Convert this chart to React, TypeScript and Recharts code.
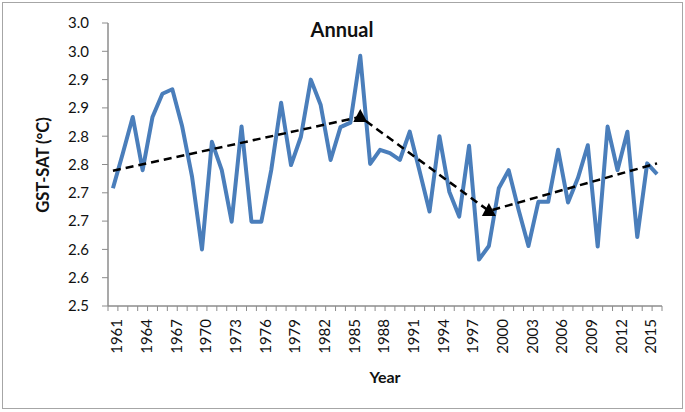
import { Label, Line, LineChart, XAxis, YAxis } from "recharts";

const years = [
  1961, 1962, 1963, 1964, 1965, 1966, 1967, 1968, 1969, 1970, 1971, 1972, 1973, 1974,
  1975, 1976, 1977, 1978, 1979, 1980, 1981, 1982, 1983, 1984, 1985, 1986, 1987, 1988,
  1989, 1990, 1991, 1992, 1993, 1994, 1995, 1996, 1997, 1998, 1999, 2000, 2001, 2002,
  2003, 2004, 2005, 2006, 2007, 2008, 2009, 2010, 2011, 2012, 2013, 2014, 2015, 2016,
];

const gstSat = [
  2.708, 2.77, 2.834, 2.74, 2.834, 2.875, 2.883, 2.817, 2.728, 2.6, 2.79, 2.74, 2.649, 2.817,
  2.649, 2.649, 2.74, 2.859, 2.749, 2.799, 2.9, 2.855, 2.758, 2.816, 2.824, 2.942, 2.751, 2.776,
  2.77, 2.758, 2.808, 2.738, 2.667, 2.8, 2.702, 2.658, 2.783, 2.582, 2.606, 2.708, 2.74, 2.67,
  2.606, 2.684, 2.684, 2.776, 2.683, 2.726, 2.784, 2.605, 2.817, 2.74, 2.808, 2.622, 2.752, 2.733,
];

// piecewise trend: breakpoints only
const trendYears = [1961, 1986, 1999, 2016];
const trendValues = [2.739, 2.834, 2.668, 2.752];
const breakYears = [1986, 1999];

const yTicks = [2.5, 2.55, 2.6, 2.65, 2.7, 2.75, 2.8, 2.85, 2.9, 2.95, 3.0];
const yTickLabels = ["2.5", "2.6", "2.6", "2.7", "2.7", "2.8", "2.8", "2.9", "2.9", "3.0", "3.0"];

const data = years.map((year, i) => {
  const t = trendYears.indexOf(year);
  return { year, value: gstSat[i], trend: t >= 0 ? trendValues[t] : null };
});

const W = 685;
const H = 412;
const LEFT = 108;
const RIGHT = 23;
const TOP = 23;
const BOTTOM = 106;
const STEP = (W - LEFT - RIGHT) / years.length;
const AXIS = "#8c8c8c";
const FONT = "Lato, 'Open Sans', sans-serif";

function XTick(props: any) {
  const { x, y, payload, index } = props;
  const half = STEP / 2;
  const tx = x + 4;
  return (
    <g>
      <line x1={x - half} x2={x - half} y1={y} y2={y + 5} stroke={AXIS} strokeWidth={1} />
      {index === years.length - 1 && (
        <line x1={x + half} x2={x + half} y1={y} y2={y + 5} stroke={AXIS} strokeWidth={1} />
      )}
      {index % 3 === 0 && (
        <text
          x={tx}
          y={y + 13}
          transform={`rotate(-90, ${tx}, ${y + 13})`}
          textAnchor="end"
          dy="0.35em"
          fontSize={15}
          fontFamily={FONT}
          fill="#111"
        >
          {payload.value}
        </text>
      )}
    </g>
  );
}

function TriangleDot(props: any) {
  const { cx, cy, payload, index } = props;
  if (!breakYears.includes(payload.year) || cx == null || cy == null) {
    return <g key={`d${index}`} />;
  }
  return (
    <polygon
      key={`d${index}`}
      points={`${cx},${cy - 8} ${cx - 7},${cy + 5} ${cx + 7},${cy + 5}`}
      fill="#000"
    />
  );
}

export default function App() {
  return (
    <div style={{ position: "absolute", left: 0, top: 0, width: W, height: H, background: "#fff" }}>
      <div
        style={{
          position: "absolute",
          left: 2,
          top: 2,
          width: 679,
          height: 405,
          border: "1px solid #a6a6a6",
          pointerEvents: "none",
        }}
      />
      <LineChart
        width={W}
        height={H}
        data={data}
        margin={{ top: TOP, right: RIGHT, bottom: 0, left: 0 }}
      >
        <XAxis
          dataKey="year"
          type="category"
          interval={0}
          height={BOTTOM}
          tickSize={0}
          tickMargin={0}
          tickLine={false}
          tick={<XTick />}
          padding={{ left: STEP / 2, right: STEP / 2 }}
          axisLine={{ stroke: AXIS, strokeWidth: 1.5 }}
        >
          <Label
            content={() => (
              <g>
                <text
                  x={385}
                  y={383}
                  textAnchor="middle"
                  fontSize={16}
                  fontWeight={700}
                  fontFamily={FONT}
                  fill="#111"
                >
                  Year
                </text>
                <text
                  x={342}
                  y={37}
                  textAnchor="middle"
                  fontSize={20}
                  fontWeight={700}
                  fontFamily={FONT}
                  fill="#111"
                >
                  Annual
                </text>
              </g>
            )}
          />
        </XAxis>
        <YAxis
          width={LEFT}
          domain={[2.5, 3.0]}
          ticks={yTicks}
          interval={0}
          tickSize={6}
          tickMargin={13}
          tickFormatter={(v: number) => yTickLabels[yTicks.indexOf(v)] ?? String(v)}
          tick={{ fontSize: 15, fontFamily: FONT, fill: "#111" }}
          tickLine={{ stroke: AXIS }}
          axisLine={{ stroke: AXIS, strokeWidth: 1.5 }}
        >
          <Label
            content={() => (
              <text
                x={43}
                y={165}
                transform="rotate(-90, 43, 165)"
                textAnchor="middle"
                dy="0.35em"
                fontSize={16.5}
                fontWeight={700}
                fontFamily={FONT}
                fill="#111"
              >
                GST-SAT (°C)
              </text>
            )}
          />
        </YAxis>
        <Line
          dataKey="value"
          stroke="#4a7ebb"
          strokeWidth={4}
          strokeLinejoin="round"
          dot={false}
          activeDot={false}
          isAnimationActive={false}
        />
        <Line
          dataKey="trend"
          stroke="#000"
          strokeWidth={2.5}
          strokeDasharray="8 5"
          connectNulls
          dot={<TriangleDot />}
          activeDot={false}
          isAnimationActive={false}
        />
      </LineChart>
    </div>
  );
}
